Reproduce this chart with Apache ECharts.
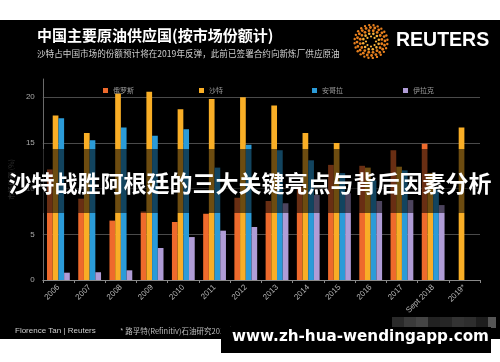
<!DOCTYPE html>
<html>
<head>
<meta charset="utf-8">
<script src="https://cdn.jsdelivr.net/npm/echarts@6/dist/echarts.min.js"></script>
<style>html,body{margin:0;padding:0;background:#fff}#c{width:500px;height:362px}</style>
</head>
<body>
<div id="c"></div>
<script>
var categories = ['2006','2007','2008','2009','2010','2011','2012','2013','2014','2015','2016','2017','Sept 2018','2019*'];
var seriesNames = ['俄罗斯','沙特','安哥拉','伊拉克'];
var russia = [12.1, 8.9, 6.5, 7.5, 6.35, 7.25, 9.0, 8.65, 10.2, 12.6, 12.5, 14.2, 14.9, null];
var saudi  = [18.0, 16.1, 20.4, 20.6, 18.7, 19.8, 20.0, 19.1, 16.1, 15.0, 12.3, 12.4, 11.7, 16.7];
var angola = [17.7, 15.3, 16.7, 15.8, 16.5, 12.3, 14.8, 14.2, 13.1, 11.7, 10.9, 12.0, 9.9, null];
var iraq   = [0.8, 0.85, 1.06, 3.5, 4.7, 5.4, 5.8, 8.4, 9.3, 9.5, 8.65, 8.75, 8.2, null];
var yTicks = [0, 5, 10, 15, 20];

var colors = ['#EE6A2C', '#F9AE26', '#2B9BD8', '#B09CD6'];
var FONT = '"Noto Sans CJK SC", "Noto Sans", sans-serif';

var chart = echarts.init(document.getElementById('c'), null, {renderer: 'canvas'});

// Reuters logo dots (decoration)
var logo = [];
var cx = 371, cy = 41.5;
var rings = [[5, 8, 1.1], [8, 12, 1.3], [11, 16, 1.4], [14, 20, 1.4], [16.5, 24, 1.2]];
rings.forEach(function (r, ri) {
  for (var k = 0; k < r[1]; k++) {
    var a = (k / r[1]) * Math.PI * 2 + ri * 0.3;
    logo.push({
      type: 'circle', z: 50,
      shape: {cx: cx + Math.cos(a) * r[0], cy: cy + Math.sin(a) * r[0], r: r[2]},
      style: {fill: ri < 2 ? '#F7B23A' : '#E8801E'}
    });
  }
});

var option = {
  backgroundColor: '#000',
  animation: false,
  color: colors,
  grid: {left: 37, right: 20, top: 79, bottom: 82},
  legend: seriesNames.map(function (n, i) {
    return {
      data: [n], left: [98, 194, 307, 398][i], top: 82,
      itemWidth: 5, itemHeight: 5, icon: 'rect',
      textStyle: {color: '#9a9a9a', fontSize: 7, fontFamily: FONT}
    };
  }),
  xAxis: {
    type: 'category',
    data: categories,
    axisLine: {lineStyle: {color: '#8a8a8a', width: 1}},
    axisTick: {show: true, length: 3, lineStyle: {color: '#8a8a8a'}},
    axisLabel: {rotate: 45, color: '#b5b5b5', fontSize: 8, fontFamily: 'Liberation Sans, Arial, sans-serif', margin: 6, interval: 0}
  },
  yAxis: {
    type: 'value', min: 0, max: 22, interval: 5,
    name: '市场份额 (%)', nameLocation: 'middle', nameGap: 27, nameRotate: 90,
    nameTextStyle: {color: '#666', fontSize: 7, fontFamily: FONT},
    axisLine: {show: true, lineStyle: {color: '#6a6a6a'}},
    axisTick: {show: false},
    axisLabel: {color: '#aaaaaa', fontSize: 8, fontFamily: 'Liberation Sans, Arial, sans-serif', margin: 8, showMaxLabel: false,
      formatter: function (v) { return yTicks.indexOf(v) >= 0 ? String(v) : ''; }},
    splitLine: {show: true, showMinLine: false, showMaxLine: false, lineStyle: {color: '#4a4a4a', width: 1}}
  },
  series: [russia, saudi, angola, iraq].map(function (d, i) {
    return {
      name: seriesNames[i], type: 'bar', data: d,
      barGap: '0%', barCategoryGap: '27%',
      itemStyle: {color: colors[i]}
    };
  }),
  graphic: [
    {type: 'rect', z: 100, shape: {x: 0, y: 0, width: 500, height: 20}, style: {fill: '#fff'}},
    {type: 'rect', z: 100, shape: {x: 0, y: 339, width: 500, height: 23}, style: {fill: '#fff'}},
    {type: 'text', z: 50, left: 37, top: 28, style: {text: '中国主要原油供应国(按市场份额计)', fill: '#fff', font: 'bold 15px ' + FONT}},
    {type: 'text', z: 50, left: 37, top: 49, style: {text: '沙特占中国市场的份额预计将在2019年反弹，此前已签署合约向新炼厂供应原油', fill: '#cfcfcf', font: '8.6px ' + FONT}},
    {type: 'text', z: 50, left: 396, top: 31, style: {text: 'REUTERS', fill: '#fff', font: 'bold 19.5px "Liberation Sans", Arial, sans-serif'}},
    {type: 'text', z: 50, left: 15, top: 327, style: {text: 'Florence Tan | Reuters', fill: '#cfcfcf', font: '8px "Liberation Sans", Arial, sans-serif'}},
    {type: 'text', z: 50, left: 120, top: 327, style: {text: '* 路孚特(Refinitiv)石油研究2019年预估', fill: '#bdbdbd', font: '7.5px ' + FONT}},
    // mosaic blocks
    {type: 'rect', z: 60, shape: {x: 392, y: 317, width: 12, height: 11}, style: {fill: '#2a2a2a'}},
    {type: 'rect', z: 60, shape: {x: 404, y: 317, width: 12, height: 11}, style: {fill: '#3a3a3a'}},
    {type: 'rect', z: 60, shape: {x: 416, y: 317, width: 12, height: 11}, style: {fill: '#444'}},
    {type: 'rect', z: 60, shape: {x: 428, y: 317, width: 12, height: 11}, style: {fill: '#222'}},
    {type: 'rect', z: 60, shape: {x: 440, y: 317, width: 12, height: 11}, style: {fill: '#262626'}},
    {type: 'rect', z: 60, shape: {x: 452, y: 317, width: 12, height: 11}, style: {fill: '#333'}},
    {type: 'rect', z: 60, shape: {x: 464, y: 317, width: 12, height: 11}, style: {fill: '#2e2e2e'}},
    {type: 'rect', z: 60, shape: {x: 476, y: 317, width: 12, height: 11}, style: {fill: '#1e1e1e'}},
    {type: 'rect', z: 60, shape: {x: 488, y: 317, width: 8, height: 11}, style: {fill: '#555'}},
    // banner overlay
    {type: 'rect', z: 100, shape: {x: 0, y: 149, width: 500, height: 64}, style: {fill: 'rgba(0,0,0,0.56)'}},
    {type: 'text', z: 101, left: 'center', top: 172, style: {text: '沙特战胜阿根廷的三大关键亮点与背后因素分析', fill: '#fff', font: 'bold 23px ' + FONT}},
    // watermark
    {type: 'rect', z: 100, shape: {x: 221, y: 327, width: 270, height: 26}, style: {fill: '#000'}},
    {type: 'text', z: 101, left: 232, top: 330, style: {text: 'www.zh-hua-wendingapp.com', fill: '#fff', font: 'bold 15.2px "DejaVu Sans", sans-serif'}}
  ].concat(logo)
};
chart.setOption(option);
</script>
</body>
</html>
